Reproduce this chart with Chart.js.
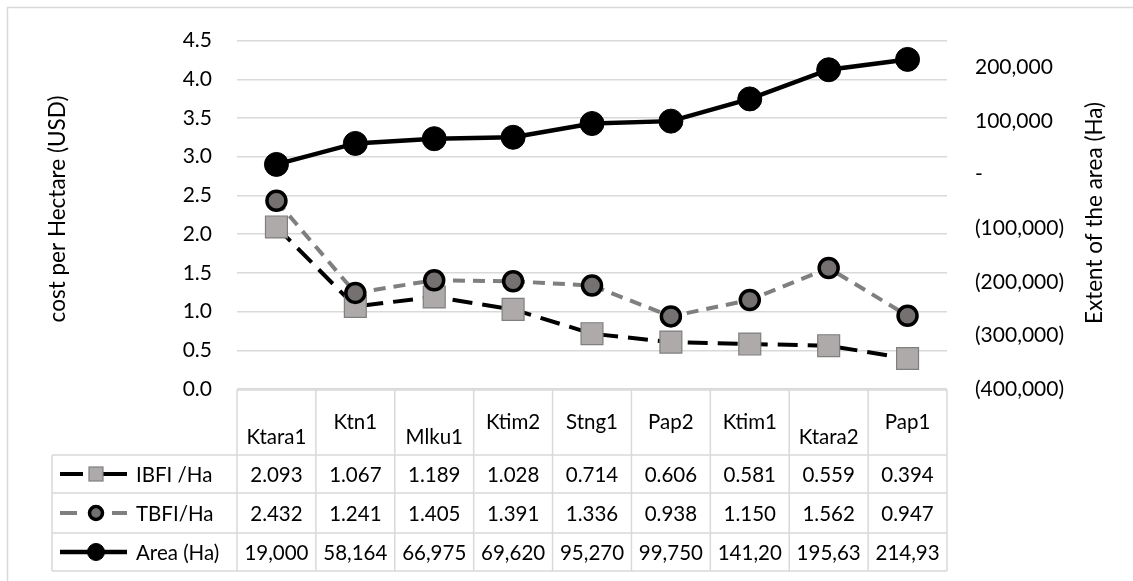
<!DOCTYPE html>
<html>
<head>
<meta charset="utf-8">
<script src="https://cdn.jsdelivr.net/npm/chart.js@4.4.0/dist/chart.umd.min.js"></script>
<style>
  html, body { margin:0; padding:0; background:#fff; }
  #wrap { width:1133px; height:581px; position:relative; }
</style>
</head>
<body>
<div id="wrap"><canvas id="chart" width="1133" height="581"></canvas></div>
<script>
// Data
const sites = ['Ktara1','Ktn1','Mlku1','Ktim2','Stng1','Pap2','Ktim1','Ktara2','Pap1'];
const ibfi  = [2.093, 1.067, 1.189, 1.028, 0.714, 0.606, 0.581, 0.559, 0.394];
const tbfi  = [2.432, 1.241, 1.405, 1.391, 1.336, 0.938, 1.150, 1.562, 0.947];
const area  = [19000, 58164, 66975, 69620, 95270, 99750, 141200, 195630, 214930];
const costMin = 0, costMax = 4.5, costStep = 0.5;
const areaMin = -400000, areaMax = 250000;
const areaTickVals = [-400000, -300000, -200000, -100000, 0, 100000, 200000];

const FONT = 'Lato';
const FS   = 20.5;   // table text
const TS   = 22.5;   // axis titles
const TXT  = '#000';
const GRID = '#d9d9d9';
Chart.defaults.font.family = FONT;
Chart.defaults.font.size = 21;
Chart.defaults.color = TXT;

// Helpers
const fmtInt = v => Math.round(v).toLocaleString('en-US');
const fmtAcct = v => v === 0 ? '-' : v < 0 ? '(' + fmtInt(-v) + ')' : fmtInt(v);

function line(ctx, x1, y1, x2, y2){
  ctx.beginPath(); ctx.moveTo(x1, y1); ctx.lineTo(x2, y2); ctx.stroke();
}

// Table + titles + frame
const tablePlugin = {
  id: 'dataTable',
  afterDraw(chart){
    const {ctx, chartArea: ca, scales: {x}} = chart;
    const n = sites.length;
    const colW = (ca.right - ca.left) / n;
    const top = ca.bottom + 1, hdrB = top + 65;
    const rowH = [38, 40, 38];
    const rows = [hdrB]; rowH.forEach(h => rows.push(rows[rows.length-1] + h));
    const bot = rows[rows.length-1];
    const legL = 52;

    ctx.save();
    // outer frame
    ctx.strokeStyle = GRID; ctx.lineWidth = 1.5;
    line(ctx, 7, 7.5, 1133, 7.5);
    line(ctx, 7.5, 7, 7.5, 581);

    // table grid
    line(ctx, ca.left, top, ca.right, top);
    rows.forEach(y => line(ctx, legL, y, ca.right, y));
    for (let i = 0; i <= n; i++) {
      const xx = ca.left + i * colW;
      line(ctx, xx, top, xx, bot);
    }
    line(ctx, legL, hdrB, legL, bot);

    // header labels (wide ones sit lower, like Excel does)
    ctx.fillStyle = TXT;
    ctx.font = FS + 'px ' + FONT;
    ctx.textAlign = 'center'; ctx.textBaseline = 'middle';
    sites.forEach((s, i) => {
      const cx = x.getPixelForValue(i);
      const w = ctx.measureText(s).width;
      const cy = w > FS * 2.68 ? top + 47 : top + 32;
      ctx.fillText(s, cx, cy);
    });

    // value rows
    const cells = [
      ibfi.map(v => v.toFixed(3)),
      tbfi.map(v => v.toFixed(3)),
      area.map(fmtInt)
    ];
    cells.forEach((row, r) => {
      const cy = (rows[r] + rows[r+1]) / 2 + 1;
      row.forEach((t, i) => {
        let s = t;
        while (ctx.measureText(s).width > colW - 12) s = s.slice(0, -1);
        ctx.fillText(s, x.getPixelForValue(i), cy);
      });
    });

    // legend keys
    chart.data.datasets.forEach((d, r) => {
      const cy = (rows[r] + rows[r+1]) / 2;
      ctx.save();
      ctx.strokeStyle = d.borderColor;
      ctx.lineWidth = d.borderWidth;
      ctx.setLineDash(d.legendDash || []);
      line(ctx, 60, cy, 127, cy);
      ctx.restore();
      const mx = 96;
      ctx.save();
      ctx.fillStyle = d.pointBackgroundColor;
      ctx.strokeStyle = d.pointBorderColor;
      ctx.lineWidth = d.pointBorderWidth;
      if (d.pointStyle === 'rect') {
        ctx.fillRect(mx - 7, cy - 7, 14, 14);
        ctx.strokeRect(mx - 7, cy - 7, 14, 14);
      } else {
        ctx.beginPath(); ctx.arc(mx, cy, d.legendR, 0, Math.PI * 2);
        ctx.fill(); ctx.stroke();
      }
      ctx.restore();
      ctx.textAlign = 'left';
      ctx.fillText(d.label, 136, cy + 1);
    });

    // axis titles
    ctx.font = TS + 'px ' + FONT;
    ctx.textAlign = 'center';
    ctx.save();
    ctx.translate(58, 209); ctx.rotate(-Math.PI / 2);
    ctx.fillText('cost per Hectare (USD)', 0, 0);
    ctx.restore();
    ctx.save();
    ctx.translate(1095, 213); ctx.rotate(-Math.PI / 2);
    ctx.fillText('Extent of the area (Ha)', 0, 0);
    ctx.restore();
    ctx.restore();
  }
};

new Chart(document.getElementById('chart'), {
  type: 'line',
  data: {
    labels: sites,
    datasets: [
      {
        label: 'IBFI /Ha', data: ibfi, yAxisID: 'y',
        borderColor: '#000', borderWidth: 4, borderDash: [20, 10], legendDash: [23, 6, 100],
        pointStyle: 'rect', pointRadius: 15.5, pointHoverRadius: 15.5,
        pointBackgroundColor: '#aeaaaa', pointBorderColor: '#7f7f7f', pointBorderWidth: 1.2,
        tension: 0, order: 3
      },
      {
        label: 'TBFI/Ha', data: tbfi, yAxisID: 'y',
        borderColor: '#7f7f7f', borderWidth: 4, borderDash: [12, 8], legendDash: [17, 35, 20],
        pointStyle: 'circle', pointRadius: 9.5, pointHoverRadius: 9.5, legendR: 6.5,
        pointBackgroundColor: '#767171', pointBorderColor: '#000', pointBorderWidth: 3.5,
        tension: 0, order: 2
      },
      {
        label: 'Area (Ha)', data: area, yAxisID: 'y2',
        borderColor: '#000', borderWidth: 4.5,
        pointStyle: 'circle', pointRadius: 12, pointHoverRadius: 12, legendR: 8.5,
        pointBackgroundColor: '#000', pointBorderColor: '#000', pointBorderWidth: 1,
        tension: 0, order: 1
      }
    ]
  },
  options: {
    responsive: false,
    animation: false,
    layout: { padding: { left: 7, right: 7, top: 37, bottom: 192 } },
    plugins: { legend: { display: false }, tooltip: { enabled: false } },
    scales: {
      x: { type: 'category', offset: true, display: false },
      y: {
        position: 'left', min: costMin, max: costMax,
        ticks: { stepSize: costStep, padding: 25, callback: v => v.toFixed(1) },
        grid: { color: GRID, lineWidth: 1.5, drawTicks: false },
        border: { display: false },
        afterFit(s){ s.width = 230; }
      },
      y2: {
        position: 'right', min: areaMin, max: areaMax,
        ticks: { padding: 28, callback: v => fmtAcct(v) },
        grid: { display: false, drawTicks: false },
        border: { display: false },
        afterBuildTicks(s){ s.ticks = areaTickVals.map(v => ({ value: v })); },
        afterFit(s){ s.width = 179; }
      }
    }
  },
  plugins: [tablePlugin]
});
</script>
</body>
</html>
